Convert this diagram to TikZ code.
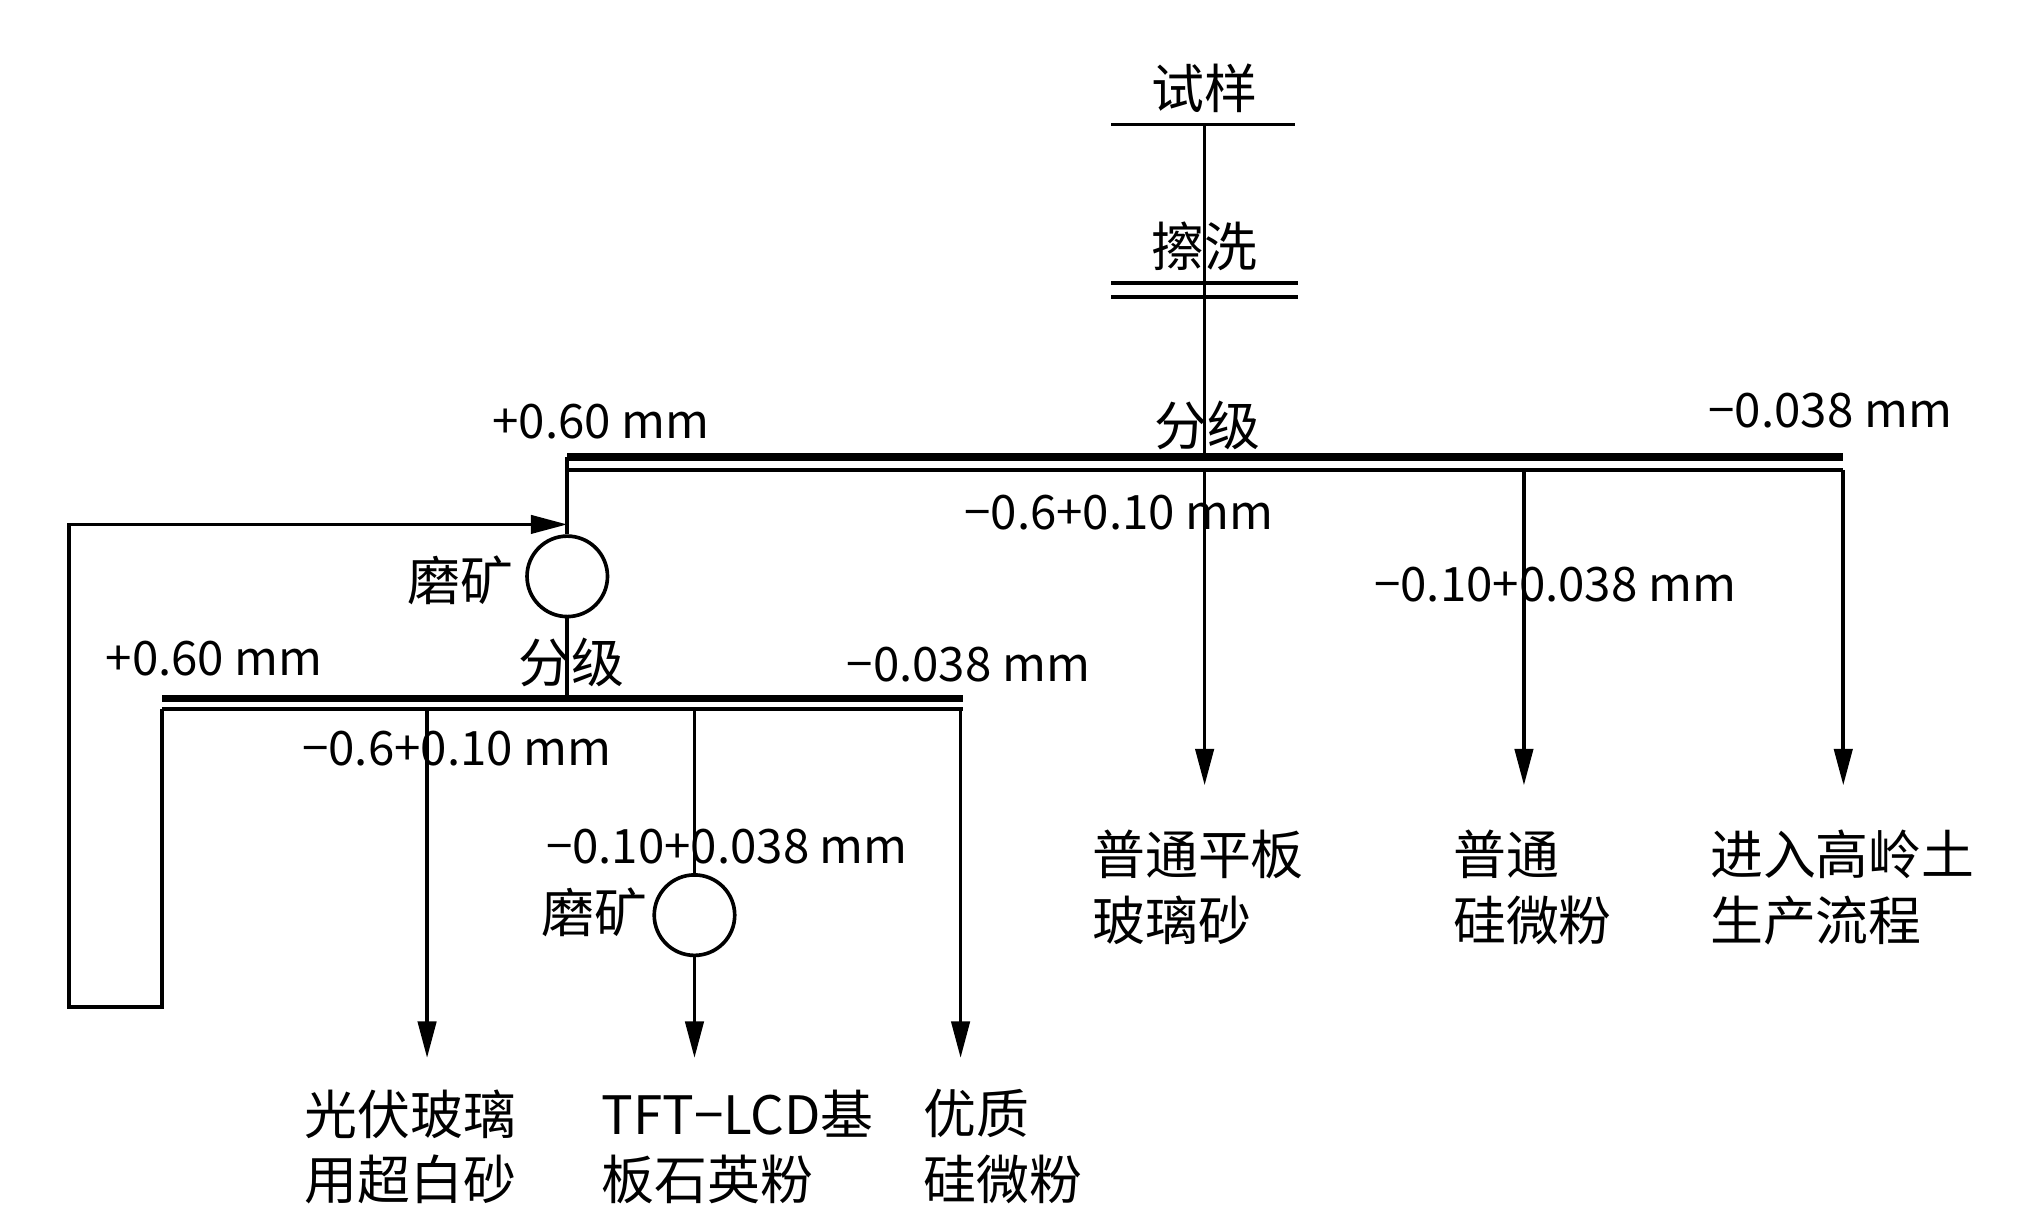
\documentclass[tikz,border=0pt]{standalone}
\usepackage{fontspec}
\setmainfont{Noto Sans CJK SC}
\usetikzlibrary{arrows.meta}
\begin{document}
\begin{tikzpicture}[x=0.05cm,y=-0.05cm,line width=4pt,
  arr/.style={-{Triangle[length=40pt,width=20pt]}},
  cn/.style={font=\fontsize{58}{70}\selectfont,inner sep=0pt},
  nm/.style={font=\fontsize{52}{60}\selectfont,inner sep=0pt},
  outbox/.style={font=\fontsize{58}{72}\selectfont,inner sep=0pt,align=left,anchor=north west},
  mill/.style={circle,draw,minimum size=62*0.05cm,inner sep=0pt}]
\useasboundingbox (0,0) rectangle (1560,949);
% top
\node[cn] (s) at (928,68) {试样};
\draw (856,96) -- (998,96);
\node[cn] (c) at (928,190) {擦洗};
\draw (856,218) -- (1000,218);
\draw (856,229) -- (1000,229);
\coordinate (t1) at (928,96);
\coordinate (t2) at (928,352);
\draw (t1) -- (t2);
\node[cn] at (930,328) {分级};
\draw[line width=8pt] (437,352) -- (1420,352);
\draw (437,362) -- (1420,362);
\node[nm] at (463,325) {+0.60 mm};
\node[nm] at (1410,316) {−0.038 mm};
\coordinate (a1) at (928,362); \coordinate (a1e) at (928,605);
\coordinate (a2) at (1174,362); \coordinate (a2e) at (1174,605);
\coordinate (a3) at (1420,362); \coordinate (a3e) at (1420,605);
\draw[arr] (a1) -- (a1e);
\draw[arr] (a2) -- (a2e);
\draw[arr] (a3) -- (a3e);
\node[nm] at (862,395) {−0.6+0.10 mm};
\node[nm] at (1198,450) {−0.10+0.038 mm};
\node[outbox] at (840,638) {普通平板\\玻璃砂};
\node[outbox] at (1118,638) {普通\\硅微粉};
\node[outbox] at (1316,638) {进入高岭土\\生产流程};
% mill 1
\node[mill] (m1) at (437,444) {};
\node[cn,anchor=east] at (397,447) {磨矿};
\coordinate (b0) at (437,352);
\draw (b0) -- (m1.north);
\coordinate (b1) at (437,538);
\draw (m1.south) -- (b1);
\node[cn] at (440,510) {分级};
\draw[line width=8pt] (125,538) -- (742,538);
\draw (125,546) -- (742,546);
\node[nm] at (165,507) {+0.60 mm};
\node[nm] at (746,512) {−0.038 mm};
% recycle
\coordinate (r0) at (125,546);
\coordinate (r1) at (125,776);
\coordinate (r2) at (53,776);
\coordinate (r3) at (53,404);
\coordinate (r4) at (437,404);
\draw[arr] (r0) -- (r1) -- (r2) -- (r3) -- (r4);
% branches
\coordinate (d1) at (329,546); \coordinate (d1e) at (329,815);
\draw[arr] (d1) -- (d1e);
\node[mill] (m2) at (535,705) {};
\coordinate (d2) at (535,546); \coordinate (d2e) at (535,815);
\draw (d2) -- (m2.north);
\draw[arr] (m2.south) -- (d2e);
\coordinate (d3) at (740,546); \coordinate (d3e) at (740,815);
\draw[arr] (d3) -- (d3e);
\node[nm] at (352,577) {−0.6+0.10 mm};
\node[nm] at (560,652) {−0.10+0.038 mm};
\node[cn,anchor=east] at (500,703) {磨矿};
\node[outbox] at (233,838) {光伏玻璃\\用超白砂};
\node[outbox] at (462,838) {TFT−LCD基\\板石英粉};
\node[outbox] at (710,838) {优质\\硅微粉};
\end{tikzpicture}
\end{document}
